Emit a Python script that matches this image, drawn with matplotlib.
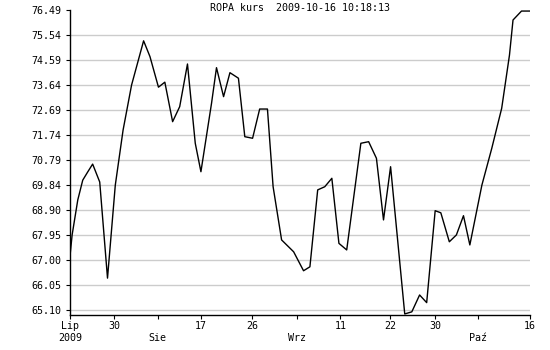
import matplotlib
matplotlib.use("Agg")
import matplotlib.pyplot as plt

# data: trading-day position vs. price
day = [0.0, 0.3, 1.1, 1.8, 2.5, 3.2, 4.2, 5.3, 6.4, 7.5, 8.7, 10.4, 11.3, 12.5,
       13.4, 14.5, 15.5, 16.6, 17.7, 18.5, 20.0, 20.7, 21.7, 22.6, 23.8, 24.7,
       25.8, 26.8, 27.9, 28.7, 29.9, 31.6, 33.0, 33.9, 35.0, 36.0, 37.0, 38.0,
       39.1, 41.1, 42.2, 43.3, 44.3, 45.3, 47.3, 48.3, 49.4, 50.4, 51.6, 52.4,
       53.6, 54.6, 55.6, 56.5, 58.2, 59.6, 61.0, 62.1, 62.6, 63.8, 65.0]
price = [67.15, 67.95, 69.28, 70.03, 70.34, 70.64, 69.96, 66.31, 69.84, 71.93,
         73.64, 75.32, 74.72, 73.56, 73.75, 72.25, 72.82, 74.44, 71.43, 70.35,
         72.95, 74.30, 73.20, 74.11, 73.90, 71.68, 71.62, 72.73, 72.73, 69.78,
         67.76, 67.31, 66.59, 66.74, 69.66, 69.78, 70.10, 67.63, 67.38, 71.43,
         71.49, 70.86, 68.52, 70.54, 64.95, 65.03, 65.67, 65.38, 68.87, 68.79,
         67.69, 67.95, 68.68, 67.57, 69.84, 71.24, 72.76, 74.78, 76.11, 76.45,
         76.45]

y_ticks = [65.10, 66.05, 67.00, 67.95, 68.90, 69.84, 70.79, 71.74, 72.69,
           73.64, 74.59, 75.54, 76.49]
x_tick_pos = [0.0, 6.2, 12.4, 18.5, 25.7, 32.1, 38.2, 45.2, 51.6, 57.7, 65.0]
x_tick_labels = ["Lip\n2009", "30", "\nSie", "17", "26", "\nWrz", "11", "22",
                 "30", "\nPaź", "16"]
title = "ROPA kurs  2009-10-16 10:18:13"

plt.rcParams['font.family'] = ['DejaVu Sans Mono']
fig = plt.figure(figsize=(5.5, 3.5), dpi=100)
ax = fig.add_axes([70/550, 35/350, 460/550, 305/350])

for v in y_ticks[:-1]:
    ax.axhline(v, color="#cccccc", lw=1.0, zorder=1)

ax.plot(day, price, color="black", lw=1.0, zorder=3)

ax.set_xlim(0, 65)
ax.set_ylim(64.91, 76.49)
ax.set_yticks(y_ticks)
ax.set_yticklabels([f"{v:.2f}" for v in y_ticks], fontsize=7.2)
ax.set_xticks(x_tick_pos)
ax.set_xticklabels(x_tick_labels, fontsize=7.2, linespacing=1.35)
ax.tick_params(axis="both", length=3, width=0.8, color="black")
ax.tick_params(axis="x", pad=1)
ax.tick_params(axis="y", pad=3)
for s in ["top", "right"]:
    ax.spines[s].set_visible(False)
for s in ["left", "bottom"]:
    ax.spines[s].set_linewidth(1.0)
    ax.spines[s].set_color("black")

fig.text(300/550, 1 - 8/350, title, ha="center", va="center", fontsize=7.2)

fig.savefig("out.png", dpi=100)
